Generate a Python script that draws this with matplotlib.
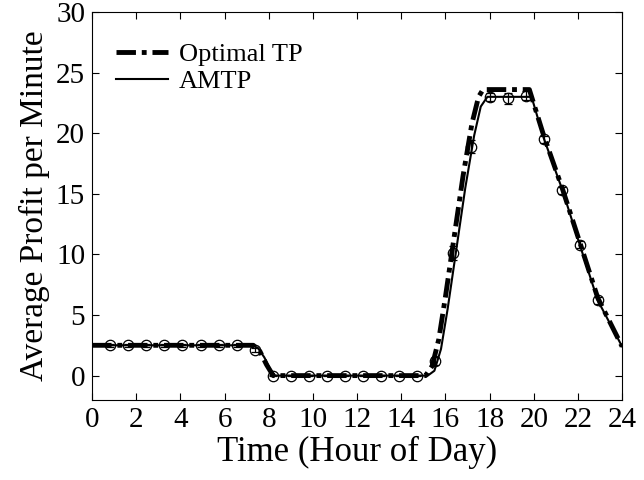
import numpy as np
import matplotlib
matplotlib.use("Agg")
import matplotlib.pyplot as plt

plt.rcParams['font.family'] = ['Liberation Serif', 'DejaVu Serif']

# Optimal TP curve (hour, profit)
opt_t = [0, 7.3, 7.6, 7.9, 8.2, 15.1, 15.4, 15.7, 16.0, 16.4, 16.8, 17.2, 17.5, 17.7,
         19.8, 20.45, 21.3, 22.1, 22.9, 24.0]
opt_v = [2.5, 2.5, 2.0, 0.9, 0.0, 0.0, 0.8, 3.0, 6.5, 11.5, 16.5, 20.8, 23.0, 23.6,
         23.6, 19.8, 15.4, 10.9, 6.4, 2.4]

# AMTP curve
amtp_t = [0, 7.2, 7.5, 7.8, 8.1, 8.3, 15.2, 15.5, 15.8, 16.1, 16.5, 16.9, 17.3, 17.6, 17.9, 18.1,
          19.9, 20.45, 21.3, 22.1, 22.9, 24.0]
amtp_v = [2.5, 2.5, 2.3, 1.5, 0.4, 0.0, 0.0, 0.4, 2.2, 5.5, 10.5, 15.5, 19.8, 22.2, 23.0, 23.0,
          23.0, 19.6, 15.3, 10.7, 6.2, 2.4]

# AMTP sample points with error bars
pts_t = [0.82, 1.64, 2.45, 3.27, 4.09, 4.91, 5.73, 6.55, 7.36, 8.18, 9.0, 9.82, 10.64,
         11.45, 12.27, 13.09, 13.91, 14.73, 15.55, 16.36, 17.18, 18.0, 18.82, 19.64,
         20.45, 21.27, 22.09, 22.91]
pts_v = [2.5, 2.5, 2.5, 2.5, 2.5, 2.5, 2.5, 2.5, 2.1, 0.0, 0.0, 0.0, 0.0,
         0.0, 0.0, 0.0, 0.0, 0.0, 1.2, 10.1, 18.9, 23.0, 22.9, 23.1,
         19.5, 15.3, 10.8, 6.2]
pts_err = [0.1, 0.1, 0.1, 0.1, 0.1, 0.1, 0.1, 0.1, 0.15, 0.05, 0.05, 0.05, 0.05,
           0.05, 0.05, 0.05, 0.05, 0.05, 0.3, 0.6, 0.5, 0.35, 0.45, 0.35,
           0.3, 0.3, 0.3, 0.3]

fig = plt.figure(figsize=(6.44, 4.8), dpi=100)
ax = fig.add_axes([0.143, 0.167, 0.823, 0.808])

ax.plot(opt_t, opt_v, color='black', lw=3.5, ls=(0, (4, 1.2, 1, 1.2)), label='Optimal TP')
ax.plot(amtp_t, amtp_v, color='black', lw=1.5, label='AMTP')
ax.errorbar(pts_t, pts_v, yerr=pts_err, fmt='o', mfc='none', mec='black', ms=7.5,
            mew=0.9, ecolor='black', elinewidth=0.9, capsize=3)

ax.set_xlim(0, 24)
ax.set_ylim(-2, 30)
ax.set_xticks(np.arange(0, 25, 2))
ax.set_yticks(np.arange(0, 31, 5))
ax.tick_params(direction='in', top=True, right=True, labelsize=21, length=5, pad=5)
ax.set_xlabel('Time (Hour of Day)', fontsize=25, labelpad=2)
ax.set_ylabel('Average Profit per Minute', fontsize=24, labelpad=4)

leg = ax.legend(loc='upper left', bbox_to_anchor=(-0.013, 1.0), frameon=False,
                fontsize=19, handlelength=2.0, borderaxespad=0.75,
                labelspacing=0.15, handletextpad=0.4)

fig.savefig('out.png', dpi=100)
